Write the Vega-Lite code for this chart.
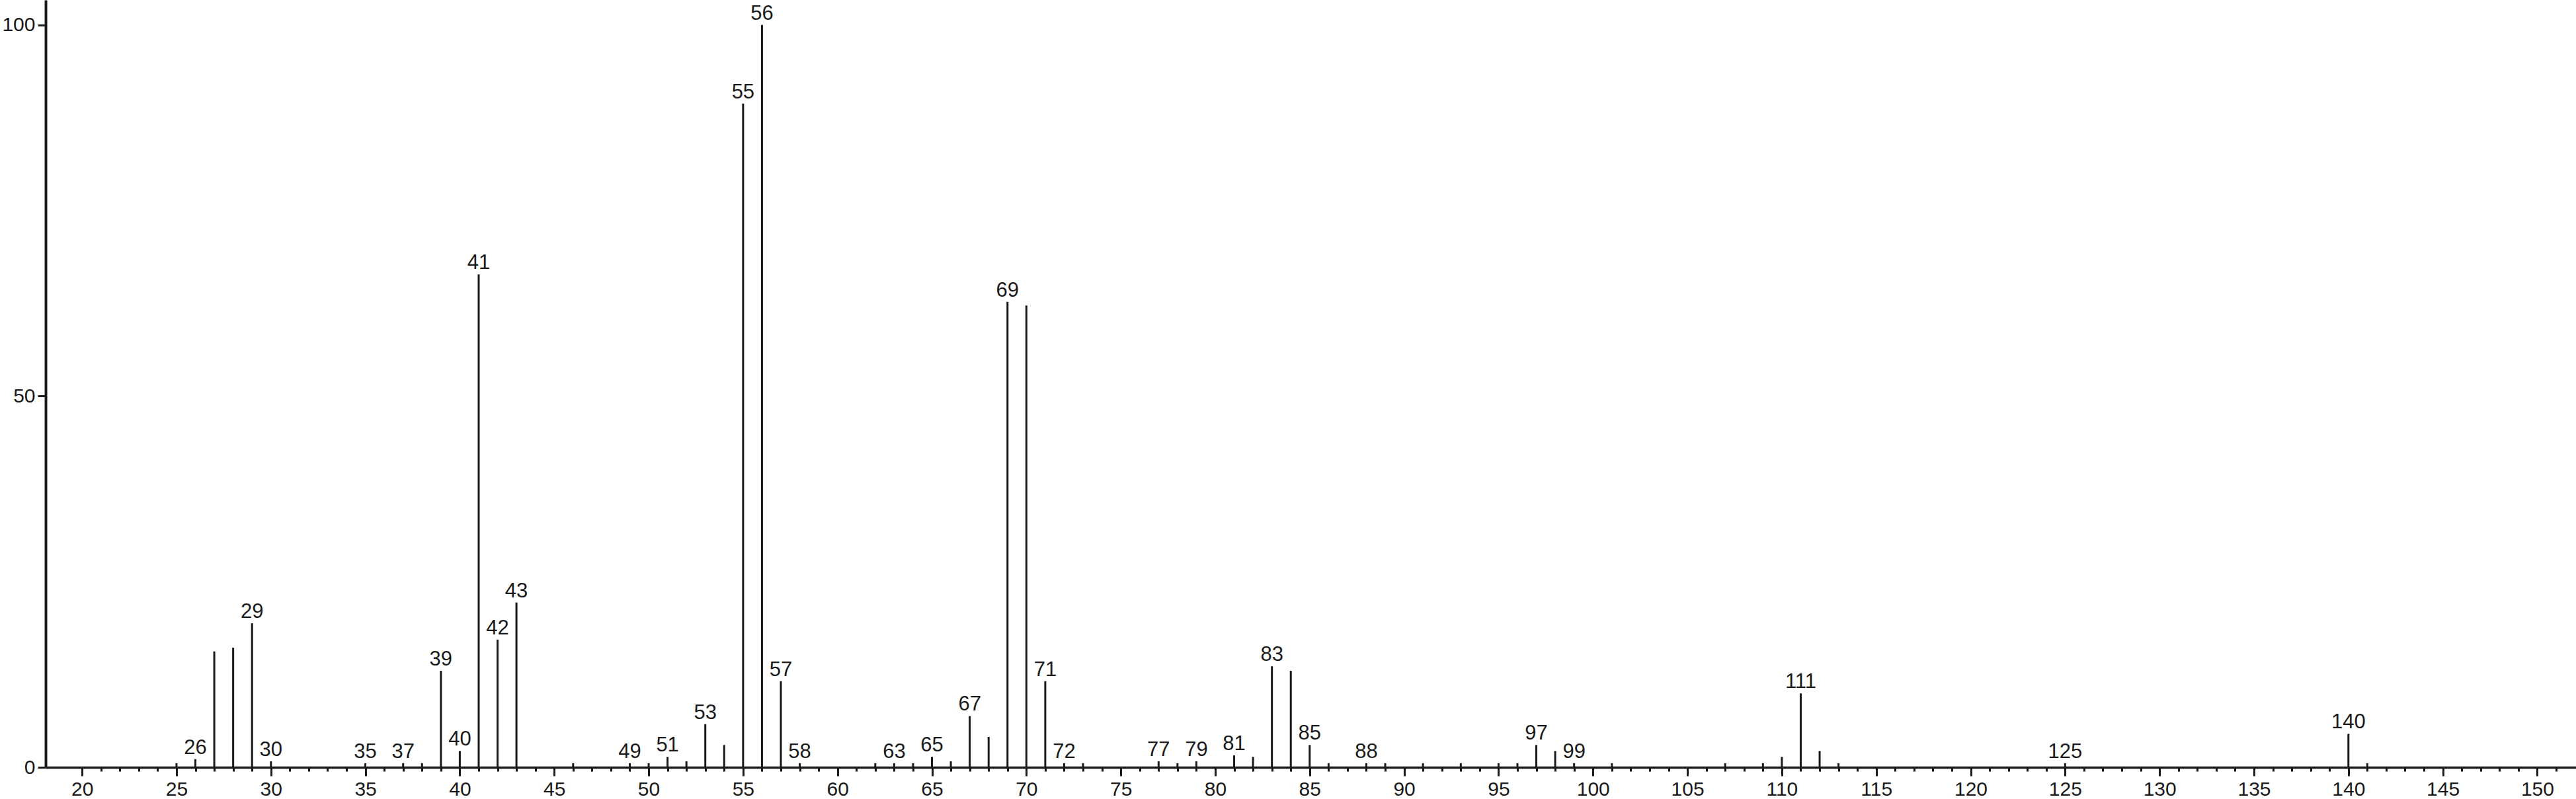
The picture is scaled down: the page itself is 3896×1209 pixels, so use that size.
{
  "$schema": "https://vega.github.io/schema/vega-lite/v6.json",
  "autosize": "none",
  "width": 3827,
  "height": 1161,
  "padding": {"left": 69, "top": 0, "right": 0, "bottom": 48},
  "background": "white",
  "config": {"view": {"stroke": null}, "font": "Liberation Sans"},
  "data": {"values": [
    {"mz": 25, "ab": 0.55, "lbl": ""},
    {"mz": 26, "ab": 1.1, "lbl": "26"},
    {"mz": 27, "ab": 15.6, "lbl": ""},
    {"mz": 28, "ab": 16.1, "lbl": ""},
    {"mz": 29, "ab": 19.4, "lbl": "29"},
    {"mz": 30, "ab": 0.8, "lbl": "30"},
    {"mz": 35, "ab": 0.55, "lbl": "35"},
    {"mz": 37, "ab": 0.55, "lbl": "37"},
    {"mz": 38, "ab": 0.55, "lbl": ""},
    {"mz": 39, "ab": 13.0, "lbl": "39"},
    {"mz": 40, "ab": 2.2, "lbl": "40"},
    {"mz": 41, "ab": 66.4, "lbl": "41"},
    {"mz": 42, "ab": 17.2, "lbl": "42"},
    {"mz": 43, "ab": 22.2, "lbl": "43"},
    {"mz": 46, "ab": 0.55, "lbl": ""},
    {"mz": 49, "ab": 0.55, "lbl": "49"},
    {"mz": 50, "ab": 0.55, "lbl": ""},
    {"mz": 51, "ab": 1.4, "lbl": "51"},
    {"mz": 52, "ab": 0.8, "lbl": ""},
    {"mz": 53, "ab": 5.8, "lbl": "53"},
    {"mz": 54, "ab": 3.0, "lbl": ""},
    {"mz": 55, "ab": 89.4, "lbl": "55"},
    {"mz": 56, "ab": 100, "lbl": "56"},
    {"mz": 57, "ab": 11.6, "lbl": "57"},
    {"mz": 58, "ab": 0.55, "lbl": "58"},
    {"mz": 62, "ab": 0.55, "lbl": ""},
    {"mz": 63, "ab": 0.55, "lbl": "63"},
    {"mz": 64, "ab": 0.55, "lbl": ""},
    {"mz": 65, "ab": 1.4, "lbl": "65"},
    {"mz": 66, "ab": 0.8, "lbl": ""},
    {"mz": 67, "ab": 6.9, "lbl": "67"},
    {"mz": 68, "ab": 4.1, "lbl": ""},
    {"mz": 69, "ab": 62.7, "lbl": "69"},
    {"mz": 70, "ab": 62.2, "lbl": ""},
    {"mz": 71, "ab": 11.6, "lbl": "71"},
    {"mz": 72, "ab": 0.55, "lbl": "72"},
    {"mz": 73, "ab": 0.55, "lbl": ""},
    {"mz": 77, "ab": 0.8, "lbl": "77"},
    {"mz": 78, "ab": 0.55, "lbl": ""},
    {"mz": 79, "ab": 0.8, "lbl": "79"},
    {"mz": 81, "ab": 1.6, "lbl": "81"},
    {"mz": 82, "ab": 1.4, "lbl": ""},
    {"mz": 83, "ab": 13.6, "lbl": "83"},
    {"mz": 84, "ab": 13.0, "lbl": ""},
    {"mz": 85, "ab": 3.0, "lbl": "85"},
    {"mz": 86, "ab": 0.55, "lbl": ""},
    {"mz": 88, "ab": 0.55, "lbl": "88"},
    {"mz": 89, "ab": 0.55, "lbl": ""},
    {"mz": 91, "ab": 0.55, "lbl": ""},
    {"mz": 93, "ab": 0.55, "lbl": ""},
    {"mz": 95, "ab": 0.55, "lbl": ""},
    {"mz": 96, "ab": 0.55, "lbl": ""},
    {"mz": 97, "ab": 3.0, "lbl": "97"},
    {"mz": 98, "ab": 2.2, "lbl": ""},
    {"mz": 99, "ab": 0.55, "lbl": "99"},
    {"mz": 101, "ab": 0.55, "lbl": ""},
    {"mz": 107, "ab": 0.55, "lbl": ""},
    {"mz": 109, "ab": 0.55, "lbl": ""},
    {"mz": 110, "ab": 1.4, "lbl": ""},
    {"mz": 111, "ab": 9.95, "lbl": "111"},
    {"mz": 112, "ab": 2.2, "lbl": ""},
    {"mz": 113, "ab": 0.55, "lbl": ""},
    {"mz": 125, "ab": 0.55, "lbl": "125"},
    {"mz": 140, "ab": 4.5, "lbl": "140"},
    {"mz": 141, "ab": 0.55, "lbl": ""}
  ]},
  "resolve": {"axis": {"x": "independent"}},
  "layer": [
    {
      "mark": {"type": "rule", "color": "#1a1a1a", "strokeWidth": 3},
      "encoding": {
        "x": {"field": "mz", "type": "quantitative",
              "scale": {"domain": [18.07, 152.05], "nice": false, "zero": false},
              "axis": {"orient": "bottom", "title": null, "grid": false,
                       "values": [20,21,22,23,24,25,26,27,28,29,30,31,32,33,34,35,36,37,38,39,40,41,42,43,44,45,46,47,48,49,50,51,52,53,54,55,56,57,58,59,60,61,62,63,64,65,66,67,68,69,70,71,72,73,74,75,76,77,78,79,80,81,82,83,84,85,86,87,88,89,90,91,92,93,94,95,96,97,98,99,100,101,102,103,104,105,106,107,108,109,110,111,112,113,114,115,116,117,118,119,120,121,122,123,124,125,126,127,128,129,130,131,132,133,134,135,136,137,138,139,140,141,142,143,144,145,146,147,148,149,150,151],
                       "labels": false, "tickSize": 6, "tickWidth": 3, "tickColor": "#1a1a1a",
                       "domain": true, "domainWidth": 3.5, "domainColor": "#1a1a1a"}},
        "y": {"field": "ab", "type": "quantitative",
              "scale": {"domain": [0, 103.36], "nice": false},
              "axis": {"title": null, "grid": false, "values": [0, 50, 100],
                       "tickSize": 12, "tickWidth": 3, "tickColor": "#1a1a1a",
                       "domain": true, "domainWidth": 4, "domainColor": "#1a1a1a",
                       "labelFontSize": 30, "labelColor": "#1a1a1a", "labelPadding": 4,
                       "labelFont": "Liberation Sans"}},
        "y2": {"datum": 0}
      }
    },
    {
      "mark": {"type": "text", "baseline": "bottom", "align": "center", "dy": -1,
               "fontSize": 31, "font": "Liberation Sans", "color": "#1a1a1a"},
      "encoding": {
        "x": {"field": "mz", "type": "quantitative",
              "axis": {"orient": "bottom", "title": null, "grid": false,
                       "values": [20,25,30,35,40,45,50,55,60,65,70,75,80,85,90,95,100,105,110,115,120,125,130,135,140,145,150],
                       "tickSize": 13, "tickWidth": 3, "tickColor": "#1a1a1a",
                       "domain": false, "labelFontSize": 30, "labelColor": "#1a1a1a",
                       "labelPadding": 5, "labelFont": "Liberation Sans", "labelOverlap": false}},
        "y": {"field": "ab", "type": "quantitative",
              "axis": {"title": null, "grid": false, "values": [0, 50, 100],
                       "tickSize": 12, "tickWidth": 3, "tickColor": "#1a1a1a",
                       "domain": true, "domainWidth": 4, "domainColor": "#1a1a1a",
                       "labelFontSize": 30, "labelColor": "#1a1a1a", "labelPadding": 4,
                       "labelFont": "Liberation Sans"}},
        "text": {"field": "lbl"}
      }
    }
  ]
}
